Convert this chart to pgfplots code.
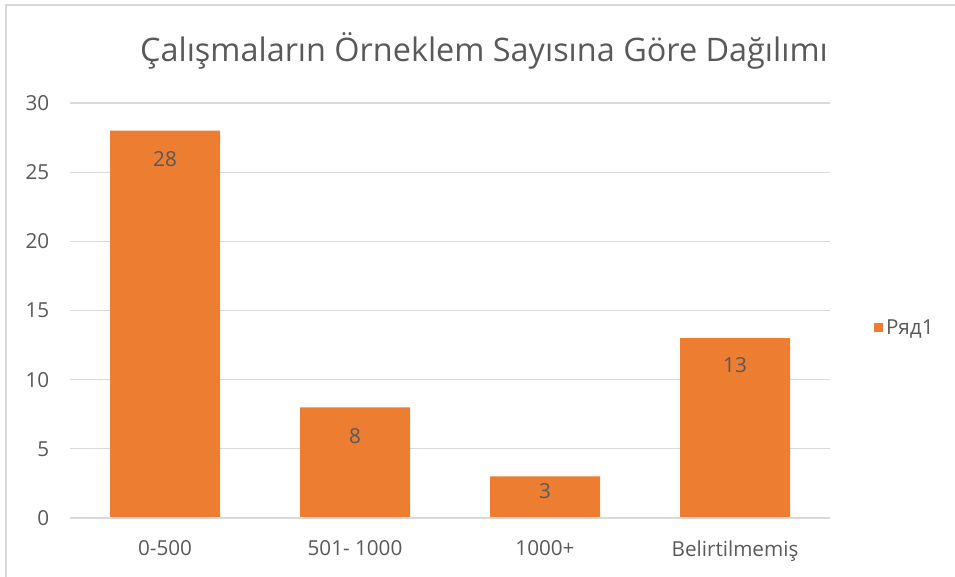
\documentclass[border=0pt]{standalone}
\usepackage{pgfplots}
\pgfplotsset{compat=1.18}
\usepackage{fontspec}
\setmainfont{Open Sans}
\definecolor{barorange}{HTML}{ED7D31}
\definecolor{txtgray}{HTML}{595959}
\definecolor{gridgray}{HTML}{D9D9D9}
\begin{document}
\begin{tikzpicture}[x=0.75pt,y=0.75pt]
\useasboundingbox (0,0) rectangle (955,577);
\draw[gridgray,line width=1.2pt] (6,-5) -- (6,572) -- (960,572);
\node[txtgray,font=\fontsize{24.3}{28}\selectfont] at (484,526) {Çalışmaların Örneklem Sayısına Göre Dağılımı};
\begin{axis}[
  at={(52.5pt,44.25pt)}, anchor=south west,
  scale only axis, width=570pt, height=311.25pt,
  xmin=-0.5, xmax=3.5, ymin=0, ymax=30,
  ytick={0,5,...,30},
  xtick=data,
  xticklabels={0-500,501- 1000,1000+,Belirtilmemiş},
  axis line style={draw=none},
  major tick length=0pt,
  ymajorgrids, grid style={gridgray,line width=0.9pt},
  tick label style={txtgray,font=\fontsize{15.5}{18}\selectfont},
  /pgf/number format/assume math mode=true,
  yticklabel style={xshift=-12pt},
  xticklabel style={yshift=-13.5pt},
  ybar, bar width=82.5pt,
  nodes near coords,
  visualization depends on={\thisrow{dy} \as \dy},
  every node near coord/.append style={txtgray,font=\fontsize{15.5}{18}\selectfont,anchor=center,yshift=\dy pt},
  legend style={at={(1.0526,0.458)},anchor=west,draw=none,fill=none,font=\fontsize{15.5}{18}\selectfont,text=txtgray},
  legend image code/.code={\fill[barorange] (0cm,-0.12cm) rectangle (0.24cm,0.12cm);},
]
\addplot[fill=barorange,draw=none] table[x=x,y=y] {
x y dy
0 28 -21
1 8 -21.5
2 3 -11.25
3 13 -20.5
};
\addlegendentry{Ряд1}
\draw[gridgray,line width=0.9pt] (axis cs:-0.5,0) -- (axis cs:3.5,0);
\end{axis}
\end{tikzpicture}
\end{document}
